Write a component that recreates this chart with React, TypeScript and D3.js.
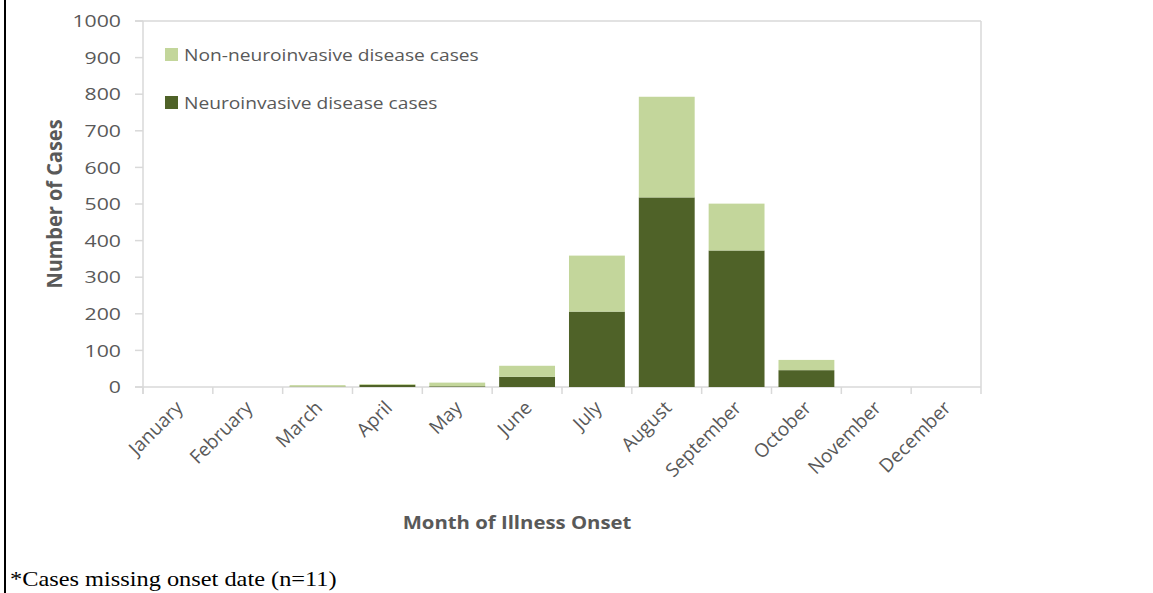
import * as d3 from "d3";

const months = [
  "January", "February", "March", "April", "May", "June",
  "July", "August", "September", "October", "November", "December",
];
const neuroinvasive = [0, 0, 1, 6, 2, 28, 206, 518, 373, 46, 0, 0];
const nonNeuroinvasive = [0, 0, 4, 2, 10, 30, 153, 275, 128, 28, 0, 0];
const yTicks = [0, 100, 200, 300, 400, 500, 600, 700, 800, 900, 1000];

const lightGreen = "#c3d69b";
const darkGreen = "#4f6228";
const textColor = "#595959";
const axisColor = "#d9d9d9";
const font = "'Open Sans', sans-serif";
// the source picture is stretched sideways, so text is widened a little
const stretch = 1.2;

export default function App() {
  const width = 1153;
  const height = 593;
  const left = 143;
  const right = 981;
  const top = 21;
  const bottom = 387;

  const x = d3.scaleBand().domain(months).range([left, right]).paddingInner(0.2).paddingOuter(0.1);
  const y = d3.scaleLinear().domain([0, 1000]).range([bottom, top]);
  const bandStart = (i: number) => left + i * ((right - left) / months.length);

  const rows = months.map((m, i) => ({ month: m, neuro: neuroinvasive[i], non: nonNeuroinvasive[i] }));
  const stack = d3.stack<{ month: string; neuro: number; non: number }>().keys(["neuro", "non"]);
  const series = stack(rows);
  const colors = [darkGreen, lightGreen];

  return (
    <svg width={width} height={height} style={{ position: "absolute", left: 0, top: 0, background: "#fff" }}>
      <line x1={5} x2={5} y1={0} y2={height} stroke="#000" strokeWidth={2} />

      {/* plot frame */}
      <line x1={135} x2={right} y1={top} y2={top} stroke={axisColor} strokeWidth={1.5} />
      <line x1={right} x2={right} y1={top} y2={bottom + 7} stroke={axisColor} strokeWidth={1.5} />
      <line x1={left} x2={left} y1={top} y2={bottom + 7} stroke={axisColor} strokeWidth={1.5} />
      <line x1={135} x2={right} y1={bottom} y2={bottom} stroke={axisColor} strokeWidth={1.5} />

      {yTicks.map((t) => (
        <g key={t}>
          <line x1={135} x2={left} y1={y(t)} y2={y(t)} stroke={axisColor} strokeWidth={1.5} />
          <text
            transform={`translate(121,${y(t)}) scale(${stretch + 0.05},1)`}
            dy="0.36em"
            textAnchor="end"
            fontFamily={font}
            fontSize={17}
            fill={textColor}
          >
            {t}
          </text>
        </g>
      ))}

      {months.map((m, i) => (
        <line key={m} x1={bandStart(i)} x2={bandStart(i)} y1={bottom} y2={bottom + 7} stroke={axisColor} strokeWidth={1.5} />
      ))}

      {series.map((s, si) =>
        s.map((d) => (
          <rect
            key={`${si}-${d.data.month}`}
            x={x(d.data.month)}
            y={y(d[1])}
            width={x.bandwidth()}
            height={Math.max(0, y(d[0]) - y(d[1]))}
            fill={colors[si]}
          />
        ))
      )}

      {months.map((m) => {
        const cx = (x(m) ?? 0) + x.bandwidth() / 2 + 6;
        const cy = 409;
        return (
          <text
            key={m}
            transform={`translate(${cx},${cy}) rotate(-45)`}
            textAnchor="end"
            fontFamily={font}
            fontSize={19}
            fill={textColor}
          >
            {m}
          </text>
        );
      })}

      <text
        transform={`translate(62,204) rotate(-90) scale(1.05,1.15)`}
        textAnchor="middle"
        fontFamily={font}
        fontSize={19}
        fontWeight="bold"
        fill={textColor}
      >
        Number of Cases
      </text>
      <text
        transform={`translate(517,529) scale(1.13,1)`}
        textAnchor="middle"
        fontFamily={font}
        fontSize={18}
        fontWeight="bold"
        fill={textColor}
      >
        Month of Illness Onset
      </text>

      {/* legend */}
      <rect x={165} y={48} width={13} height={13} fill={lightGreen} />
      <text transform={`translate(184,55) scale(${stretch},1)`} dy="0.36em" fontFamily={font} fontSize={16} fill={textColor}>
        Non-neuroinvasive disease cases
      </text>
      <rect x={165} y={96} width={13} height={13} fill={darkGreen} />
      <text transform={`translate(184,103) scale(${stretch},1)`} dy="0.36em" fontFamily={font} fontSize={16} fill={textColor}>
        Neuroinvasive disease cases
      </text>

      <text
        transform="translate(10,586) scale(1.16,1)"
        fontFamily="'Liberation Serif', 'Times New Roman', serif"
        fontSize={21}
        fill="#000"
      >
        *Cases missing onset date (n=11)
      </text>
    </svg>
  );
}
